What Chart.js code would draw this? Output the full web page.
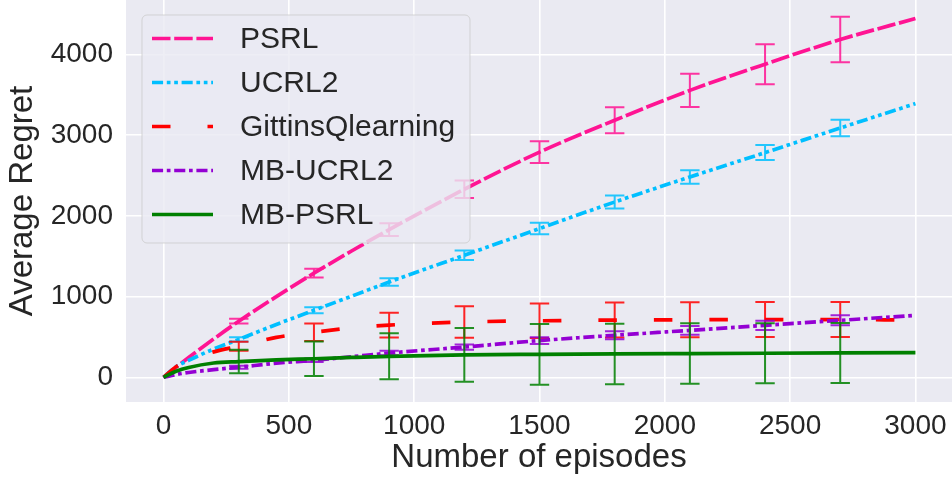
<!DOCTYPE html>
<html>
<head>
<meta charset="utf-8">
<script src="https://cdn.jsdelivr.net/npm/chart.js@4/dist/chart.umd.min.js"></script>
<style>
  html, body { margin: 0; padding: 0; background: #ffffff; }
  #wrap { width: 952px; height: 478px; }
</style>
</head>
<body>
<div id="wrap"><canvas id="c" width="952" height="478"></canvas></div>
<script>
// ---- Data ----
const episodes = [0, 50, 100, 200, 300, 450, 600, 750, 900, 1200, 1500, 1800, 2100, 2400, 2700, 3000];
const psrl      = [0, 125, 245, 475, 695, 1000, 1290, 1565, 1830, 2330, 2790, 3185, 3555, 3880, 4185, 4445];
const ucrl2     = [0, 130, 210, 350, 470, 655, 830, 1005, 1180, 1512, 1843, 2172, 2482, 2784, 3089, 3391];
const gittins   = [0, 130, 205, 315, 385, 495, 558, 612, 647, 685, 700, 709, 713, 715, 716, 708];
const mbUcrl2   = [0, 35, 60, 95, 125, 175, 211, 255, 300, 375, 455, 520, 582, 644, 706, 768];
const mbPsrl    = [0, 75, 122, 177, 195, 216, 230, 246, 260, 278, 285, 290, 294, 298, 302, 306];

const errEpisodes = [300, 600, 900, 1200, 1500, 1800, 2100, 2400, 2700];
const psrlErr     = [29, 54, 80, 107, 134, 161, 207, 248, 281];
const ucrl2Err    = [25, 37, 47, 60, 72, 80, 83, 93, 101];
const gittinsErr  = [55, 108, 153, 194, 213, 217, 217, 217, 217];
const mbUcrl2Err  = [18, 22, 28, 33, 41, 50, 55, 58, 62];
const mbPsrlErr   = [145, 215, 285, 333, 376, 375, 375, 372, 372];

const seriesNames = ['PSRL', 'UCRL2', 'GittinsQlearning', 'MB-UCRL2', 'MB-PSRL'];
const xTicks = [0, 500, 1000, 1500, 2000, 2500, 3000];
const yTicks = [0, 1000, 2000, 3000, 4000];
const xLabel = 'Number of episodes';
const yLabel = 'Average Regret';

// ---- Styles ----
const LW = 3.7;
const styles = [
  { color: '#FF1493', dash: [5*LW, 1*LW] },
  { color: '#00BFFF', dash: [3*LW, 1*LW, 1*LW, 1*LW, 1*LW, 1*LW] },
  { color: '#FF0000', dash: [5*LW, 10*LW] },
  { color: '#9400D3', dash: [3*LW, 1*LW, 1*LW, 1*LW] },
  { color: '#008000', dash: [] }
];
const seriesValues = [psrl, ucrl2, gittins, mbUcrl2, mbPsrl];
const seriesErrs = [psrlErr, ucrl2Err, gittinsErr, mbUcrl2Err, mbPsrlErr];
const TEXT = '#262626';
const FONT = '"Liberation Sans", Arial, Helvetica, sans-serif';

const datasets = seriesNames.map((name, i) => ({
  label: name,
  data: episodes.map((x, k) => ({ x: x, y: seriesValues[i][k] })),
  errors: seriesErrs[i],
  borderColor: styles[i].color,
  backgroundColor: styles[i].color,
  borderDash: styles[i].dash,
  borderWidth: LW,
  borderCapStyle: 'butt',
  pointRadius: 0,
  pointHoverRadius: 0,
  fill: false,
  cubicInterpolationMode: 'monotone',
  order: seriesNames.length - 1 - i
}));

const bgPlugin = {
  id: 'bg',
  beforeDraw(chart) {
    const { ctx, chartArea: a } = chart;
    ctx.save();
    ctx.fillStyle = '#EAEAF2';
    ctx.fillRect(a.left, a.top, a.right - a.left, a.bottom - a.top);
    ctx.restore();
  }
};

const errPlugin = {
  id: 'errbars',
  afterDatasetDraw(chart, args) {
    const ds = chart.data.datasets[args.index];
    const { ctx, chartArea: a } = chart;
    const xs = chart.scales.x, ys = chart.scales.y;
    ctx.save();
    ctx.beginPath();
    ctx.rect(a.left, a.top, a.right - a.left, a.bottom - a.top);
    ctx.clip();
    ctx.strokeStyle = ds.borderColor;
    ctx.lineWidth = 2;
    ctx.globalAlpha = 0.85;
    ctx.setLineDash([]);
    errEpisodes.forEach((ep, k) => {
      const idx = episodes.indexOf(ep);
      const v = seriesValues[args.index][idx];
      const e = ds.errors[k];
      const px = xs.getPixelForValue(ep);
      const top = ys.getPixelForValue(v + e);
      const bot = ys.getPixelForValue(v - e);
      ctx.beginPath();
      ctx.moveTo(px, top); ctx.lineTo(px, bot);
      ctx.moveTo(px - 9.7, top); ctx.lineTo(px + 9.7, top);
      ctx.moveTo(px - 9.7, bot); ctx.lineTo(px + 9.7, bot);
      ctx.stroke();
    });
    ctx.restore();
  }
};

const legendPlugin = {
  id: 'mplLegend',
  afterDraw(chart) {
    const { ctx } = chart;
    const bx = 142, by = 15, bw = 328, bh = 228, r = 5;
    ctx.save();
    ctx.beginPath();
    ctx.moveTo(bx + r, by);
    ctx.lineTo(bx + bw - r, by);
    ctx.arcTo(bx + bw, by, bx + bw, by + r, r);
    ctx.lineTo(bx + bw, by + bh - r);
    ctx.arcTo(bx + bw, by + bh, bx + bw - r, by + bh, r);
    ctx.lineTo(bx + r, by + bh);
    ctx.arcTo(bx, by + bh, bx, by + bh - r, r);
    ctx.lineTo(bx, by + r);
    ctx.arcTo(bx, by, bx + r, by, r);
    ctx.closePath();
    ctx.fillStyle = 'rgba(234,234,242,0.8)';
    ctx.fill();
    ctx.strokeStyle = 'rgba(204,204,204,0.8)';
    ctx.lineWidth = 1;
    ctx.stroke();
    chart.data.datasets.forEach((ds, i) => {
      const y = 38.5 + i * 44;
      ctx.beginPath();
      ctx.setLineDash(ds.borderDash);
      ctx.lineCap = 'butt';
      ctx.strokeStyle = ds.borderColor;
      ctx.lineWidth = LW;
      ctx.moveTo(152, y);
      ctx.lineTo(213, y);
      ctx.stroke();
      ctx.setLineDash([]);
      ctx.fillStyle = TEXT;
      ctx.font = '30px ' + FONT;
      ctx.textAlign = 'left';
      ctx.textBaseline = 'middle';
      ctx.fillText(ds.label, 240, y + 1);
    });
    ctx.restore();
  }
};

new Chart(document.getElementById('c'), {
  type: 'line',
  data: { datasets: datasets },
  options: {
    responsive: false,
    animation: false,
    devicePixelRatio: 1,
    layout: { padding: 0 },
    plugins: { legend: { display: false }, tooltip: { enabled: false } },
    scales: {
      x: {
        type: 'linear',
        min: -150,
        max: 3146,
        afterBuildTicks(scale) { scale.ticks = xTicks.map(v => ({ value: v })); },
        afterFit(scale) { scale.height = 76; scale.paddingLeft = 0; scale.paddingRight = 0; },
        grid: { color: '#FFFFFF', lineWidth: 1.6, drawTicks: false },
        border: { display: false },
        ticks: { color: TEXT, padding: 7, font: { family: FONT, size: 28 }, maxRotation: 0, callback: v => String(v) },
        title: { display: true, text: xLabel, color: TEXT, padding: { top: 0, bottom: 0 }, font: { family: FONT, size: 33 } }
      },
      y: {
        type: 'linear',
        min: -306,
        max: 4675,
        afterBuildTicks(scale) { scale.ticks = yTicks.map(v => ({ value: v })); },
        afterFit(scale) { scale.width = 126; scale.paddingTop = 0; scale.paddingBottom = 0; },
        grid: { color: '#FFFFFF', lineWidth: 1.6, drawTicks: false },
        border: { display: false },
        ticks: { color: TEXT, padding: 13, font: { family: FONT, size: 28 }, callback: v => String(v) },
        title: { display: true, text: yLabel, color: TEXT, padding: { top: 3, bottom: 0 }, font: { family: FONT, size: 33 } }
      }
    }
  },
  plugins: [bgPlugin, errPlugin, legendPlugin]
});
</script>
</body>
</html>
